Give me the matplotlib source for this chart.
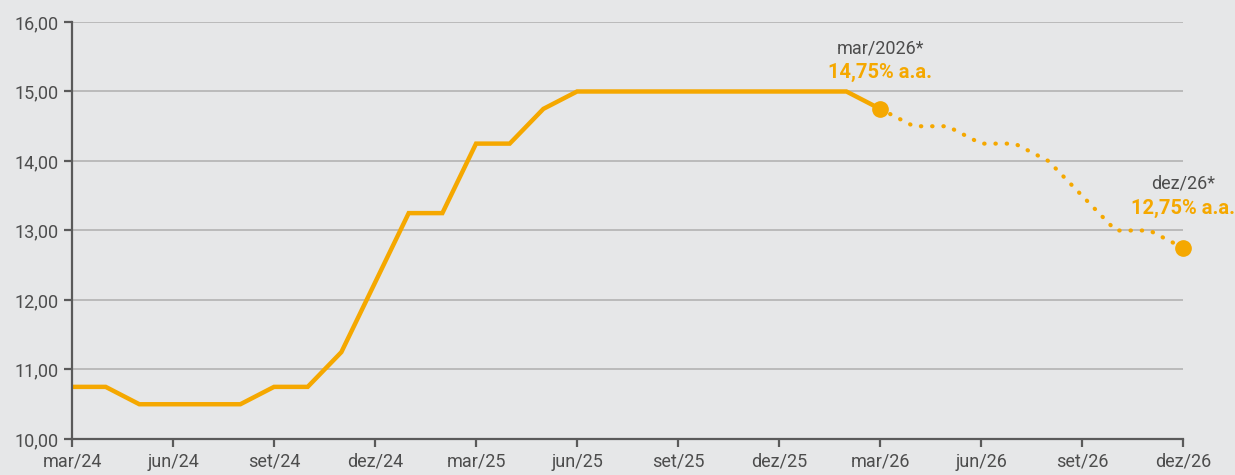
import matplotlib
matplotlib.use("Agg")
import matplotlib.pyplot as plt

# monthly Selic path, mar/24 .. dez/26
months = ["mar/24", "abr/24", "mai/24", "jun/24", "jul/24", "ago/24", "set/24", "out/24",
          "nov/24", "dez/24", "jan/25", "fev/25", "mar/25", "abr/25", "mai/25", "jun/25",
          "jul/25", "ago/25", "set/25", "out/25", "nov/25", "dez/25", "jan/26", "fev/26",
          "mar/26", "abr/26", "mai/26", "jun/26", "jul/26", "ago/26", "set/26", "out/26",
          "nov/26", "dez/26"]
realized = [10.75, 10.75, 10.50, 10.50, 10.50, 10.50, 10.75, 10.75, 11.25, 12.25,
            13.25, 13.25, 14.25, 14.25, 14.75, 15.00, 15.00, 15.00, 15.00, 15.00,
            15.00, 15.00, 15.00, 15.00, 14.75]
projected = [14.75, 14.50, 14.50, 14.25, 14.25, 14.00, 13.50, 13.00, 13.00, 12.75]
yticks = [10, 11, 12, 13, 14, 15, 16]

ORANGE = "#f5a800"
BG = "#e6e7e8"
GREY_TXT = "#4d4d4d"

plt.rcParams["font.family"] = ["Roboto", "DejaVu Sans"]

fig = plt.figure(figsize=(12.35, 4.75), dpi=100, facecolor=BG)
ax = fig.add_axes([0.0583, 0.0758, 0.8997, 0.8779], facecolor=BG)

n_real = len(realized)
x_real = list(range(n_real))
x_proj = list(range(n_real - 1, n_real - 1 + len(projected)))

ax.plot(x_real, realized, color=ORANGE, lw=3.2, solid_joinstyle="miter", zorder=3)
ax.plot(x_proj, projected, color=ORANGE, lw=3.0, linestyle=(0, (0.1, 2.6)),
        dash_capstyle="round", zorder=3)
ax.plot([x_proj[0], x_proj[-1]], [projected[0], projected[-1]], "o",
        color=ORANGE, ms=11, zorder=4, clip_on=False)

ax.set_xlim(0, len(months) - 1)
ax.set_ylim(10, 16)
ax.set_yticks(yticks)
ax.set_yticklabels([f"{v:.2f}".replace(".", ",") for v in yticks])
tick_idx = list(range(0, len(months), 3))
ax.set_xticks(tick_idx)
ax.set_xticklabels([months[i] for i in tick_idx])

ax.grid(axis="y", color="#b3b3b3", lw=1.2)
ax.set_axisbelow(True)
for s in ["top", "right"]:
    ax.spines[s].set_visible(False)
for s in ["left", "bottom"]:
    ax.spines[s].set_color("#5a5a5a")
    ax.spines[s].set_linewidth(1.6)
    ax.spines[s].set_zorder(5)
ax.tick_params(axis="both", colors="#5a5a5a", width=1.6, length=6,
               labelsize=13, labelcolor=GREY_TXT)
ax.tick_params(axis="x", pad=4)

# annotations
ax.text(x_proj[0], 15.62, "mar/2026*", ha="center", va="center",
        fontsize=13, color=GREY_TXT)
ax.text(x_proj[0], 15.27, "14,75% a.a.", ha="center", va="center",
        fontsize=14.5, color=ORANGE, fontweight="bold")
ax.text(x_proj[-1], 13.68, "dez/26*", ha="center", va="center",
        fontsize=13, color=GREY_TXT, clip_on=False)
ax.text(x_proj[-1], 13.32, "12,75% a.a.", ha="center", va="center",
        fontsize=14.5, color=ORANGE, fontweight="bold", clip_on=False)

fig.savefig("out.png", dpi=100, facecolor=BG)
